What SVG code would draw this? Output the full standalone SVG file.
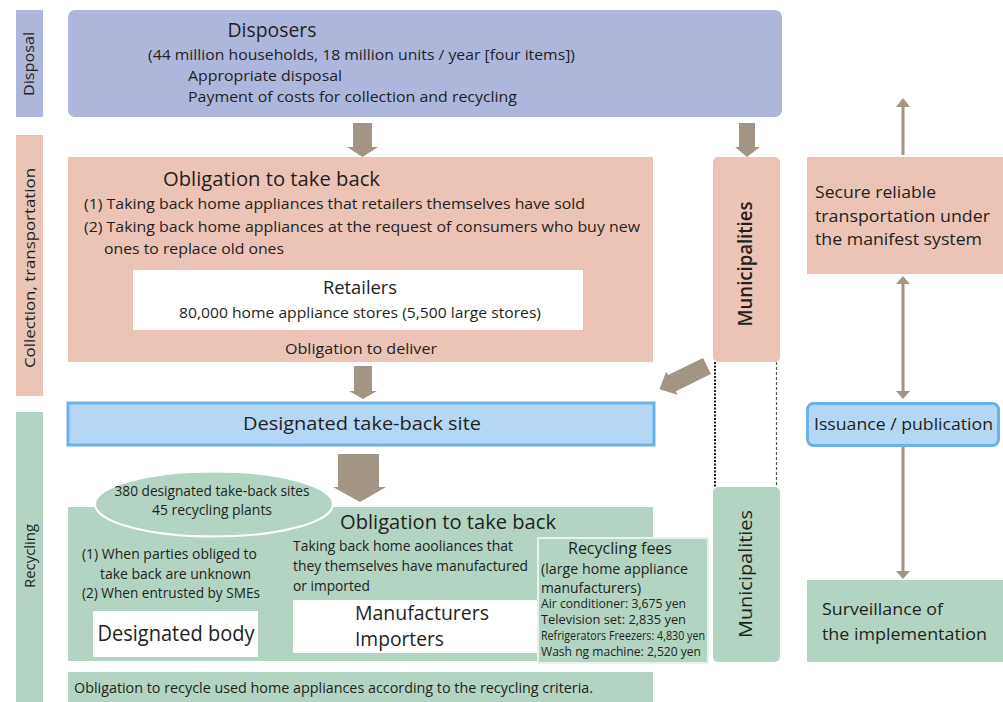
<svg xmlns="http://www.w3.org/2000/svg" width="1003" height="702" viewBox="0 0 1003 702">
<style>
text{font-family:"Open Sans","Noto Sans","Liberation Sans",sans-serif;fill:#231f20}
.blue{fill:#aeb7db}
.pink{fill:#ecc3b7}
.green{fill:#b3d4c2}
.lb{fill:#b3d7f4;stroke:#6bb2ea;stroke-width:3}
.wh{fill:#ffffff}
.arr{fill:#a39585}
.ln{stroke:#a39585;stroke-width:3;fill:none}
.s20{font-size:20px}
.s15{font-size:15px}
.s14{font-size:14.5px}
.s17{font-size:17px}
.mid{text-anchor:middle}
</style>
<rect width="1003" height="702" fill="#ffffff"/>

<g id="stage-disposal">
<rect x="16" y="10" width="27" height="107" class="blue"/>
<text class="s15 mid" transform="translate(29,64) rotate(-90)" y="5" textLength="64" lengthAdjust="spacingAndGlyphs">Disposal</text>
</g>
<g id="stage-collection">
<rect x="16" y="135" width="27" height="261" class="pink"/>
<text class="s15 mid" transform="translate(30,268) rotate(-90)" y="5" textLength="200" lengthAdjust="spacingAndGlyphs">Collection, transportation</text>
</g>
<g id="stage-recycling">
<rect x="16" y="412" width="27" height="290" class="green"/>
<text class="s15 mid" transform="translate(30,556) rotate(-90)" y="5" textLength="64" lengthAdjust="spacingAndGlyphs">Recycling</text>
</g>

<g id="disposers">
<rect x="68" y="10" width="714" height="107" rx="7" class="blue"/>
<text class="s20 mid" x="272" y="37" textLength="89" lengthAdjust="spacingAndGlyphs">Disposers</text>
<text class="s15" x="148" y="60" textLength="427" lengthAdjust="spacingAndGlyphs">(44 million households, 18 million units / year [four items])</text>
<text class="s15" x="188" y="81" textLength="154" lengthAdjust="spacingAndGlyphs">Appropriate disposal</text>
<text class="s15" x="188" y="102" textLength="329" lengthAdjust="spacingAndGlyphs">Payment of costs for collection and recycling</text>
</g>

<g id="retailers-obligation">
<rect x="68" y="157" width="585" height="205" class="pink"/>
<text class="s20" x="163" y="186" textLength="217" lengthAdjust="spacingAndGlyphs">Obligation to take back</text>
<text class="s15" x="84" y="209" textLength="501" lengthAdjust="spacingAndGlyphs">(1) Taking back home appliances that retailers themselves have sold</text>
<text class="s15" x="84" y="232" textLength="556" lengthAdjust="spacingAndGlyphs">(2) Taking back home appliances at the request of consumers who buy new</text>
<text class="s15" x="104" y="254" textLength="180" lengthAdjust="spacingAndGlyphs">ones to replace old ones</text>
</g>
<g id="retailers">
<rect x="133" y="270" width="450" height="60" class="wh"/>
<text class="mid" style="font-size:19px" x="360" y="294" textLength="74" lengthAdjust="spacingAndGlyphs">Retailers</text>
<text class="s15 mid" x="360" y="318" textLength="362" lengthAdjust="spacingAndGlyphs">80,000 home appliance stores (5,500 large stores)</text>
</g>
<g id="deliver-label">
<text class="s15 mid" x="361" y="354" textLength="152" lengthAdjust="spacingAndGlyphs">Obligation to deliver</text>
</g>

<g id="municipalities-collection">
<rect x="713" y="157" width="67" height="205" rx="5" class="pink"/>
<text class="mid" style="font-size:19px;font-weight:600" transform="translate(746,264) rotate(-90)" y="6" textLength="125" lengthAdjust="spacingAndGlyphs">Municipalities</text>
</g>

<g id="take-back-site">
<rect x="68" y="403" width="586" height="42" class="lb"/>
<text class="mid" style="font-size:18px" x="362" y="430" textLength="238" lengthAdjust="spacingAndGlyphs">Designated take-back site</text>
</g>

<g id="manufacturers-obligation">
<rect x="68" y="507" width="585" height="154" class="green"/>
<text class="s20" x="340" y="529" textLength="216" lengthAdjust="spacingAndGlyphs">Obligation to take back</text>
<text class="s14" x="82" y="559" textLength="175" lengthAdjust="spacingAndGlyphs">(1) When parties obliged to</text>
<text class="s14" x="100" y="579" textLength="151" lengthAdjust="spacingAndGlyphs">take back are unknown</text>
<text class="s14" x="82" y="598" textLength="178" lengthAdjust="spacingAndGlyphs">(2) When entrusted by SMEs</text>
<text class="s14" x="293" y="551" textLength="220" lengthAdjust="spacingAndGlyphs">Taking back home aooliances that</text>
<text class="s14" x="293" y="571" textLength="235" lengthAdjust="spacingAndGlyphs">they themselves have manufactured</text>
<text class="s14" x="293" y="591" textLength="77" lengthAdjust="spacingAndGlyphs">or imported</text>
</g>

<g id="sites-plants">
<ellipse cx="214" cy="504" rx="119" ry="32.5" class="green" stroke="#ffffff" stroke-width="2"/>
<text class="mid" style="font-size:14px" x="212" y="496" textLength="195" lengthAdjust="spacingAndGlyphs">380 designated take-back sites</text>
<text class="mid" style="font-size:14px" x="212" y="515" textLength="120" lengthAdjust="spacingAndGlyphs">45 recycling plants</text>
</g>

<g id="designated-body">
<rect x="93" y="611" width="165" height="46" class="wh"/>
<text class="mid" style="font-size:21px" x="176" y="641" textLength="157" lengthAdjust="spacingAndGlyphs">Designated body</text>
</g>

<g id="manufacturers">
<rect x="293" y="600" width="246" height="53" class="wh"/>
<text style="font-size:19.5px" x="355" y="620" textLength="134" lengthAdjust="spacingAndGlyphs">Manufacturers</text>
<text style="font-size:19.5px" x="355" y="646" textLength="89" lengthAdjust="spacingAndGlyphs">Importers</text>
</g>

<g id="recycling-fees">
<rect x="538" y="538" width="170" height="125" class="green" stroke="#e8f2ec" stroke-width="2"/>
<text class="mid" style="font-size:16px" x="620" y="554" textLength="104" lengthAdjust="spacingAndGlyphs">Recycling fees</text>
<text class="s15" x="541" y="574" textLength="147" lengthAdjust="spacingAndGlyphs">(large home appliance</text>
<text class="s15" x="541" y="593" textLength="100" lengthAdjust="spacingAndGlyphs">manufacturers)</text>
<text style="font-size:12px" x="541" y="608" textLength="145" lengthAdjust="spacingAndGlyphs">Air conditioner: 3,675 yen</text>
<text style="font-size:12px" x="541" y="624" textLength="145" lengthAdjust="spacingAndGlyphs">Television set: 2,835 yen</text>
<text style="font-size:12px" x="541" y="640" textLength="164" lengthAdjust="spacingAndGlyphs">Refrigerators Freezers: 4,830 yen</text>
<text style="font-size:12px" x="541" y="656" textLength="160" lengthAdjust="spacingAndGlyphs">Wash ng machine: 2,520 yen</text>
</g>

<g id="municipalities-recycling">
<rect x="713" y="487" width="67" height="175" rx="5" class="green"/>
<text class="mid" style="font-size:19px" transform="translate(746,574) rotate(-90)" y="6" textLength="128" lengthAdjust="spacingAndGlyphs">Municipalities</text>
</g>

<g id="recycle-criteria">
<rect x="68" y="672" width="585" height="30" class="green"/>
<text class="s14" x="74" y="693" textLength="519" lengthAdjust="spacingAndGlyphs">Obligation to recycle used home appliances according to the recycling criteria.</text>
</g>

<g id="manifest">
<rect x="807" y="157" width="196" height="117" class="pink"/>
<text class="s17" x="815" y="198" textLength="121" lengthAdjust="spacingAndGlyphs">Secure reliable</text>
<text class="s17" x="815" y="222" textLength="175" lengthAdjust="spacingAndGlyphs">transportation under</text>
<text class="s17" x="815" y="245" textLength="167" lengthAdjust="spacingAndGlyphs">the manifest system</text>
</g>

<g id="issuance">
<rect x="807.5" y="403.5" width="191" height="42" rx="6" class="lb"/>
<text class="s17" x="814" y="430" textLength="179" lengthAdjust="spacingAndGlyphs">Issuance / publication</text>
</g>

<g id="surveillance">
<rect x="807" y="580" width="196" height="82" class="green"/>
<text class="s17" x="822" y="615" textLength="121" lengthAdjust="spacingAndGlyphs">Surveillance of</text>
<text class="s17" x="822" y="640" textLength="165" lengthAdjust="spacingAndGlyphs">the implementation</text>
</g>

<g id="connectors">
<polygon class="arr" points="353,123 372,123 372,147 378,147 362.5,157 347,147 353,147"/>
<polygon class="arr" points="739,123 755,123 755,147 760,147 747,157 735,147 739,147"/>
<polygon class="arr" points="354,366 372,366 372,391 377,391 363,399 349,391 354,391"/>
<polygon class="arr" points="338,454 379,454 379,487 386,487 360,502 333,487 338,487"/>
<polygon class="arr" transform="translate(707,366) rotate(154)" points="0,-9 39,-9 39,-13 53,0 39,13 39,9 0,9"/>
<line x1="715" y1="362" x2="715" y2="487" stroke="#1a1a1a" stroke-width="2" stroke-dasharray="2 1.5"/>
<line x1="776.5" y1="362" x2="776.5" y2="487" stroke="#555555" stroke-width="1.2" stroke-dasharray="3 2"/>
<line class="ln" x1="903" y1="155" x2="903" y2="106"/>
<polygon class="arr" points="896,107 903,98 910,107"/>
<line class="ln" x1="903" y1="283" x2="903" y2="392"/>
<polygon class="arr" points="896,284 903,276 910,284"/>
<polygon class="arr" points="896,391 903,399 910,391"/>
<line class="ln" x1="903" y1="447" x2="903" y2="572"/>
<polygon class="arr" points="896,571 903,579 910,571"/>
</g>
</svg>
